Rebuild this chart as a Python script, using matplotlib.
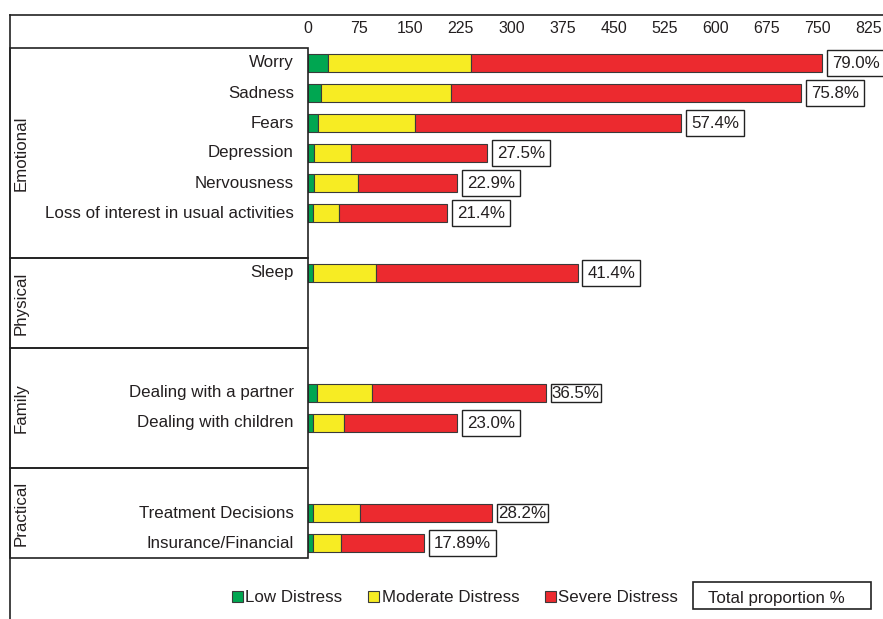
import numpy as np
import matplotlib
matplotlib.use("Agg")
from matplotlib import pyplot as plt
from matplotlib.patches import Rectangle

plt.rcParams['font.family'] = ['Liberation Sans', 'DejaVu Sans']

# データ
groups = ['Emotional', 'Physical', 'Family', 'Practical']
items = [
    ['Worry', 'Sadness', 'Fears', 'Depression', 'Nervousness',
     'Loss of interest in usual activities'],
    ['Sleep'],
    ['Dealing with a partner', 'Dealing with children'],
    ['Treatment Decisions', 'Insurance/Financial'],
]
low = [29, 19, 15, 9, 9, 7, 8, 13, 8, 8, 8]
moderate = [211, 191, 143, 54, 64, 38, 92, 81, 45, 69, 41]
severe = [517, 516, 392, 201, 147, 160, 297, 256, 167, 194, 122]
totals = ['79.0%', '75.8%', '57.4%', '27.5%', '22.9%', '21.4%',
          '41.4%', '36.5%', '23.0%', '28.2%', '17.89%']
xticks = np.arange(0, 826, 75)

# レイアウト (グループごとの行数と先頭の空き行)
group_rows = [7, 3, 4, 3]
group_lead = [0, 0, 1, 1]
box_pad = [0.3, 0.3, 0.3, 0.3, 0.3, 0.3, 0.3, 0.08, 0.3, 0.08, 0.3]

pos = []
bounds = []
start = -0.5
for g, n in enumerate(group_rows):
    first = start + 0.5 + group_lead[g]
    pos += [first + i for i in range(len(items[g]))]
    bounds.append((start, start + n))
    start += n
labels = [s for grp in items for s in grp]

c_low = '#00a651'
c_mod = '#f7ec23'
c_sev = '#ec2a2f'
txt = '#231f20'
edge = '#3a3a3a'
fs = 12.2

W, H = 883, 619
fig = plt.figure(figsize=(W / 100, H / 100), dpi=100)

# 棒グラフ
ax = fig.add_axes([308 / W, 1 - 558 / H, (W - 308) / W, 510 / H])
low = np.array(low)
moderate = np.array(moderate)
severe = np.array(severe)
kw = dict(height=0.57, edgecolor=edge, linewidth=0.8)
ax.barh(pos, low, color=c_low, **kw)
ax.barh(pos, moderate, left=low, color=c_mod, **kw)
ax.barh(pos, severe, left=low + moderate, color=c_sev, **kw)
ends = low + moderate + severe
for y, x, t, p in zip(pos, ends, totals, box_pad):
    ax.annotate(t, (x, y), xytext=(3.5 + p * fs, 0), textcoords='offset points',
                ha='left', va='center', fontsize=fs, color=txt,
                bbox=dict(boxstyle='square,pad=%.2f' % p, fc='white',
                          ec='#222222', lw=1.0))
ax.set_xlim(0, (W - 308) / 0.679)
ax.set_ylim(bounds[-1][1], bounds[0][0])
ax.xaxis.tick_top()
ax.set_xticks(xticks)
ax.tick_params(axis='x', length=0, pad=8.5, labelsize=11.5, colors=txt)
ax.set_yticks([])
for s in ax.spines.values():
    s.set_visible(False)

# 左側のラベル欄
lax = fig.add_axes([10 / W, 1 - 558 / H, 298 / W, 510 / H], sharey=ax)
lax.set_xlim(0, 298)
lax.axis('off')
for g, (b0, b1) in enumerate(bounds):
    lax.add_patch(Rectangle((0, b0), 298, b1 - b0, fill=False,
                            ec='#222222', lw=1.2, clip_on=False))
    lax.text(11, (b0 + b1) / 2, groups[g], rotation=90, ha='center',
             va='center', fontsize=fs, color=txt)
for y, s in zip(pos, labels):
    lax.text(284, y, s, ha='right', va='center', fontsize=fs, color=txt)

# 外枠
fig.add_artist(plt.Line2D([10 / W, 1], [1 - 15 / H, 1 - 15 / H],
                          color='#222222', lw=1.2))
fig.add_artist(plt.Line2D([10 / W, 10 / W], [0, 1 - 15 / H],
                          color='#222222', lw=1.2))

# 凡例
handles = [Rectangle((0, 0), 1, 1, fc=c, ec=edge, lw=0.8)
           for c in (c_low, c_mod, c_sev)]
fig.legend(handles, ['Low Distress', 'Moderate Distress', 'Severe Distress'],
           loc='center', bbox_to_anchor=(455 / W, 1 - 598 / H), ncol=3,
           frameon=False, fontsize=fs, handlelength=0.65, handleheight=0.65,
           handletextpad=0.15, columnspacing=1.5, labelcolor=txt)
fig.add_artist(Rectangle((693 / W, 1 - 609 / H), 178 / W, 27 / H,
                         fill=False, ec='#222222', lw=1.2,
                         transform=fig.transFigure))
fig.text(776 / W, 1 - 599 / H, 'Total proportion %', ha='center',
         va='center', fontsize=fs, color=txt)

plt.savefig('out.png', dpi=100)
